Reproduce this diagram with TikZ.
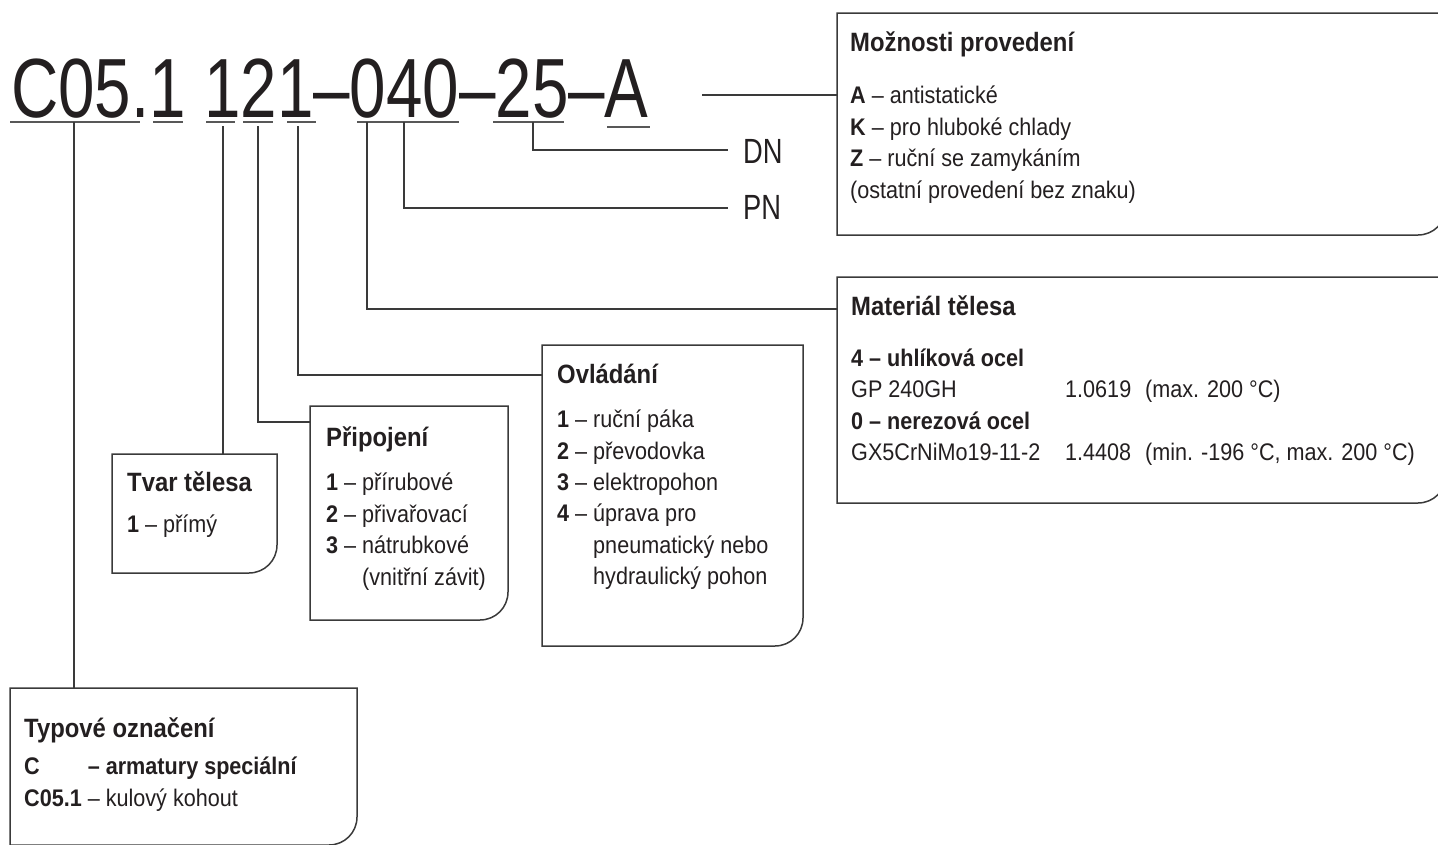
\documentclass[tikz,border=0pt]{standalone}
\usepackage{fontspec}
\setmainfont{Liberation Sans}[FakeStretch=0.9]
\newfontfamily\narrowfont{Liberation Sans}[FakeStretch=0.78]
\usetikzlibrary{calc}
\definecolor{ink}{HTML}{231F20}
\definecolor{linec}{HTML}{3A3A3A}
\newcommand{\drawcbox}[1]{\draw[boxline] (#1.north west) -- (#1.north east) -- ([yshift=28pt]#1.south east) to[out=-90,in=0] ([xshift=-28pt]#1.south east) -- (#1.south west) -- cycle;}
\begin{document}
\begin{tikzpicture}[x=1pt,y=1pt,
 boxline/.style={draw=linec, line width=1.5pt, line join=miter},
 conn/.style={draw=linec, line width=1.2pt},
 uline/.style={draw=linec!85, line width=1.3pt},
 cbox/.style={rectangle, draw=none, inner sep=0pt, outer sep=0pt, anchor=north west},
 txt/.style={anchor=base west, inner sep=0pt, text=ink, font=\fontsize{24}{29}\selectfont},
 ttl/.style={anchor=base west, inner sep=0pt, text=ink, font=\fontsize{26.5}{31}\selectfont\bfseries},
 bigcode/.style={anchor=base west, inner sep=0pt, text=ink, font=\narrowfont\fontsize{84}{100}\selectfont},
 dnpn/.style={anchor=base west, inner sep=0pt, text=ink, font=\narrowfont\fontsize{35}{42}\selectfont},
]
\useasboundingbox (0,0) rectangle (1438,-844);
\clip (0,0) rectangle (1438,-844);

% code
\node[bigcode] (code) at (11,-117) {C05.1 121–040–25–A};
\draw[uline] (10,-122) -- (140,-122);
\draw[uline] (153,-122) -- (183,-122);
\draw[uline] (206,-122) -- (235,-122);
\draw[uline] (243,-122) -- (273,-122);
\draw[uline] (287,-122) -- (316,-122);
\draw[uline] (357,-122) -- (459,-122);
\draw[uline] (493,-122) -- (564,-122);
\draw[uline] (607,-127) -- (650,-127);

% boxes
\node[cbox, minimum width=609pt, minimum height=222pt] (mozn) at (837,-13) {};
\node[cbox, minimum width=609pt, minimum height=226pt] (mat) at (837,-277) {};
\node[cbox, minimum width=261pt, minimum height=301pt] (ovl) at (542,-345) {};
\node[cbox, minimum width=198pt, minimum height=214pt] (prip) at (310,-406) {};
\node[cbox, minimum width=165pt, minimum height=119pt] (tvar) at (112,-454) {};
\node[cbox, minimum width=347pt, minimum height=157pt] (typ) at (10,-688) {};
\drawcbox{mozn}
\drawcbox{mat}
\drawcbox{ovl}
\drawcbox{prip}
\drawcbox{tvar}
\drawcbox{typ}

% DN / PN
\node[dnpn] (dn) at (743,-163) {DN};
\node[dnpn] (pn) at (743,-219) {PN};

% connector points
\coordinate (uC) at (74,-122);
\coordinate (u1) at (223,-126);
\coordinate (u2) at (258,-126);
\coordinate (u3) at (298,-126);
\coordinate (u4) at (367,-122);
\coordinate (u5) at (404,-122);
\coordinate (u6) at (533,-122);
\coordinate (aend) at (702,-95);
\coordinate (dnend) at (728,-150);
\coordinate (pnend) at (728,-208);

\draw[conn] (uC) -- (uC |- typ.north);
\draw[conn] (u1) -- (u1 |- tvar.north);
\draw[conn] (u2) |- ($(prip.north west)+(0,-16)$);
\draw[conn] (u3) |- ($(ovl.north west)+(0,-30)$);
\draw[conn] (u4) |- ($(mat.north west)+(0,-32)$);
\draw[conn] (u5) |- (pnend);
\draw[conn] (u6) |- (dnend);
\draw[conn] (aend) -- (aend -| mozn.west);

% Moznosti provedeni
\node[ttl] (mozT) at (850,-51) {Možnosti provedení};
\node[txt] (moz1) at (850,-103) {\textbf{A} – antistatické};
\node[txt] (moz2) at (850,-135) {\textbf{K} – pro hluboké chlady};
\node[txt] (moz3) at (850,-166) {\textbf{Z} – ruční se zamykáním};
\node[txt] (moz4) at (850,-198) {(ostatní provedení bez znaku)};

% Material telesa
\node[ttl] (matT) at (851,-315) {Materiál tělesa};
\node[txt] (mat1) at (851,-366) {\textbf{4 – uhlíková ocel}};
\node[txt] (mat2) at (851,-397) {\makebox[214pt][l]{GP 240GH}\makebox[80pt][l]{1.0619}(max. 200 °C)};
\node[txt] (mat3) at (851,-429) {\textbf{0 – nerezová ocel}};
\node[txt] (mat4) at (851,-460) {\makebox[214pt][l]{GX5CrNiMo19-11-2}\makebox[80pt][l]{1.4408}(min. -196 °C, max. 200 °C)};

% Ovladani
\node[ttl] (ovlT) at (557,-383) {Ovládání};
\node[txt] (ovl1) at (557,-427) {\textbf{1} – ruční páka};
\node[txt] (ovl2) at (557,-459) {\textbf{2} – převodovka};
\node[txt] (ovl3) at (557,-490) {\textbf{3} – elektropohon};
\node[txt] (ovl4) at (557,-521) {\textbf{4} – úprava pro};
\node[txt] (ovl5) at (557,-553) {\phantom{\textbf{4} – }pneumatický nebo};
\node[txt] (ovl6) at (557,-584) {\phantom{\textbf{4} – }hydraulický pohon};

% Pripojeni
\node[ttl] (pripT) at (326,-446) {Připojení};
\node[txt] (prip1) at (326,-490) {\textbf{1} – přírubové};
\node[txt] (prip2) at (326,-522) {\textbf{2} – přivařovací};
\node[txt] (prip3) at (326,-553) {\textbf{3} – nátrubkové};
\node[txt] (prip4) at (326,-585) {\phantom{\textbf{3} – }(vnitřní závit)};

% Tvar telesa
\node[ttl] (tvarT) at (127,-491) {Tvar tělesa};
\node[txt] (tvar1) at (127,-532) {\textbf{1} – přímý};

% Typove oznaceni
\node[ttl] (typT) at (24,-737) {Typové označení};
\node[txt] (typ1) at (24,-774) {\textbf{C\phantom{05.1} – armatury speciální}};
\node[txt] (typ2) at (24,-806) {\textbf{C05.1} – kulový kohout};
\end{tikzpicture}
\end{document}
